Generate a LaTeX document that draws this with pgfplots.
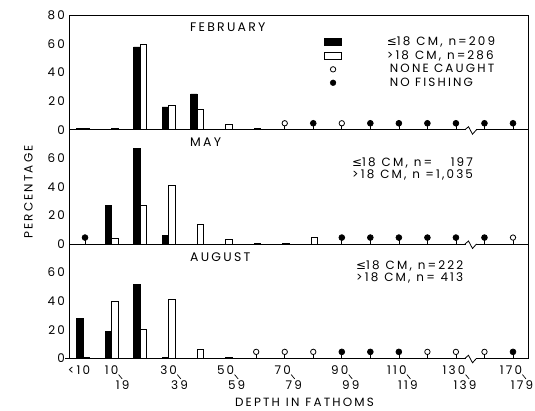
\documentclass[border=0pt]{standalone}
\usepackage{pgfplots}
\pgfplotsset{compat=1.18}
\usepackage{fontspec}
\setmainfont{Poppins}[LetterSpace=18]
\newfontfamily\symf{DejaVu Sans}
\newcommand\lesym{{\symf ≤}}
\newcommand\tickf{\fontsize{12}{15}\selectfont}
\newcommand\titf{\fontsize{12.5}{14}\selectfont}
\newcommand\legf{\fontsize{12}{12}\selectfont}
\newcommand\tail{\rlap{\tikz[baseline=0pt]\draw[line width=0.7bp,black] (-3bp,0.3bp) -- (0.5bp,-4bp);}}
\newcommand\rng[2]{\makebox[0pt]{\hspace*{-4bp}#1\tail}\\\makebox[0pt]{\hspace*{18bp}#2}}

\pgfplotsset{
  panel/.style={
    scale only axis, width=459bp, height=114.3bp,
    xmin=-0.561, xmax=15.526, ymin=0, ymax=80,
    clip=false,
    axis line style={line width=0.8bp},
    major tick length=0pt,
    ytick={0,20,40,60},
    /pgf/number format/assume math mode=true,
    yticklabel style={font=\tickf, anchor=east, inner sep=0pt, xshift=-4bp},
    xtick=\empty,
  },
  blk/.style={ybar, bar width=6.5bp, bar shift=-5.25bp, fill=black, draw=black, line width=0.6bp, forget plot},
  wht/.style={ybar, bar width=6.5bp, bar shift=1.25bp, fill=white, draw=black, line width=0.7bp, forget plot},
  nf/.style={ycomb, black, line width=0.7bp, mark=*, mark size=2.9bp, mark options={fill=black, draw=black}, forget plot},
  nc/.style={ycomb, black, line width=0.7bp, mark=*, mark size=2.7bp, mark options={fill=white, draw=black, line width=0.8bp}, forget plot},
}

\begin{document}
\begin{tikzpicture}
\path[use as bounding box] (0,0) rectangle (535bp,411bp);

% ---------- AUGUST ----------
\begin{axis}[panel, at={(69bp,52.7bp)}, anchor=south west,
  xtick={0,1,3,5,7,9,11,13,15},
  xticklabels={{\makebox[0pt]{\hspace*{-12bp}<10}},{\rng{10}{19}},{\rng{30}{39}},{\rng{50}{59}},{\rng{70}{79}},{\rng{90}{99}},{\rng{110}{119}},{\rng{130}{139}},{\rng{170}{179}}},
  xticklabel style={align=center, font=\tickf, inner sep=0pt, anchor=north, yshift=-7.6bp},
]
\addplot[blk] coordinates {(0,28) (1,19) (2,52) (3,0.7)};
\addplot[wht] coordinates {(0,0.8) (1,40) (2,20) (3,41) (4,6) (5,0.6)};
\addplot[nc] coordinates {(6,4.5) (7,4.5) (8,4.5) (12,4.5) (13,4.5) (14,4.5)};
\addplot[nf] coordinates {(9,4.5) (10,4.5) (11,4.5) (15,4.5)};
\end{axis}

% ---------- MAY ----------
\begin{axis}[panel, at={(69bp,167bp)}, anchor=south west]
\addplot[blk] coordinates {(1,27) (2,67) (3,6)};
\addplot[wht] coordinates {(1,4) (2,27) (3,41) (4,14) (5,3) (6,0.8) (7,0.8) (8,5)};
\addplot[nc] coordinates {(15,4.5)};
\addplot[nf] coordinates {(0,4.5) (9,4.5) (10,4.5) (11,4.5) (12,4.5) (13,4.5) (14,4.5)};
\end{axis}

% ---------- FEBRUARY ----------
\begin{axis}[panel, at={(69bp,281.3bp)}, anchor=south west,
  ytick={0,20,40,60,80},
  legend cell align=left,
  legend style={draw=none, fill=none, font=\legf, inner sep=0pt,
    nodes={inner sep=0pt}, row sep=3.5bp,
    at={(axis description cs:0.5556,0.815)}, anchor=north west},
]
\addplot[blk] coordinates {(0,0.7) (2,58) (3,16) (4,25)};
\addplot[wht] coordinates {(0,1) (1,0.8) (2,60) (3,17) (4,14) (5,4) (6,1)};
\addplot[nc] coordinates {(7,4.5) (9,4.5)};
\addplot[nf] coordinates {(8,4.5) (10,4.5) (11,4.5) (12,4.5) (13,4.5) (14,4.5) (15,4.5)};
\addlegendimage{legend image code/.code={\draw[fill=black,draw=black] (0bp,-3.5bp) rectangle (17bp,3.5bp);}}
\addlegendentry{\hspace*{45bp}\lesym18\enspace CM,\enspace n\,=\,209}
\addlegendimage{legend image code/.code={\draw[fill=white,draw=black,line width=0.7bp] (0bp,-3.5bp) rectangle (17bp,3.5bp);}}
\addlegendentry{\hspace*{45bp}>18\enspace CM,\enspace n\,=\,286}
\addlegendimage{legend image code/.code={\path[draw=none,fill=none] (0bp,-3.5bp) rectangle (17bp,3.5bp); \draw[fill=white,draw=black,line width=0.8bp] (8.5bp,0) circle (2.7bp);}}
\addlegendentry{\hspace*{48bp}NONE CAUGHT}
\addlegendimage{legend image code/.code={\path[draw=none,fill=none] (0bp,-3.5bp) rectangle (17bp,3.5bp); \fill[black] (8.5bp,0) circle (2.9bp);}}
\addlegendentry{\hspace*{48bp}NO FISHING}
\end{axis}

% panel titles and texts
\node[anchor=west, font=\titf, inner sep=0pt] at (190bp,384bp) {FEBRUARY};
\node[anchor=west, font=\titf, inner sep=0pt] at (190bp,268.5bp) {MAY};
\node[anchor=west, font=\titf, inner sep=0pt] at (190bp,154bp) {AUGUST};
\node[anchor=north west, font=\legf, inner sep=0pt] at (352bp,253.6bp)
  {\begin{tabular}{@{}l@{\,}r@{}}\lesym18\enspace CM,\enspace n= & \enspace 197\\ >18\enspace CM,\enspace n = & 1,035\end{tabular}};
\node[anchor=north west, font=\legf, inner sep=0pt] at (356bp,150.5bp)
  {\begin{tabular}{@{}l@{\,}r@{}}\lesym18\enspace CM,\enspace n= & 222\\ >18\enspace CM,\enspace n= & 413\end{tabular}};
\node[rotate=90, font=\tickf, inner sep=0pt] at (28.5bp,219bp) {PERCENTAGE};
\node[font=\tickf, inner sep=0pt] at (304.5bp,8.5bp) {DEPTH\enspace IN\enspace FATHOMS};

% axis breaks
\foreach \b in {281.3,167,52.7}{
  \draw[white, line width=2.5bp] (465.5bp,\b bp) -- (476bp,\b bp);
  \draw[black, line width=0.8bp, line join=miter] (465bp,\b bp) -- (468.5bp,\b bp+3bp) -- (472.5bp,\b bp-4.5bp) -- (476.5bp,\b bp);
}
\draw[line width=0.8bp] (65bp,52.7bp) -- (69bp,52.7bp);
\end{tikzpicture}
\end{document}
